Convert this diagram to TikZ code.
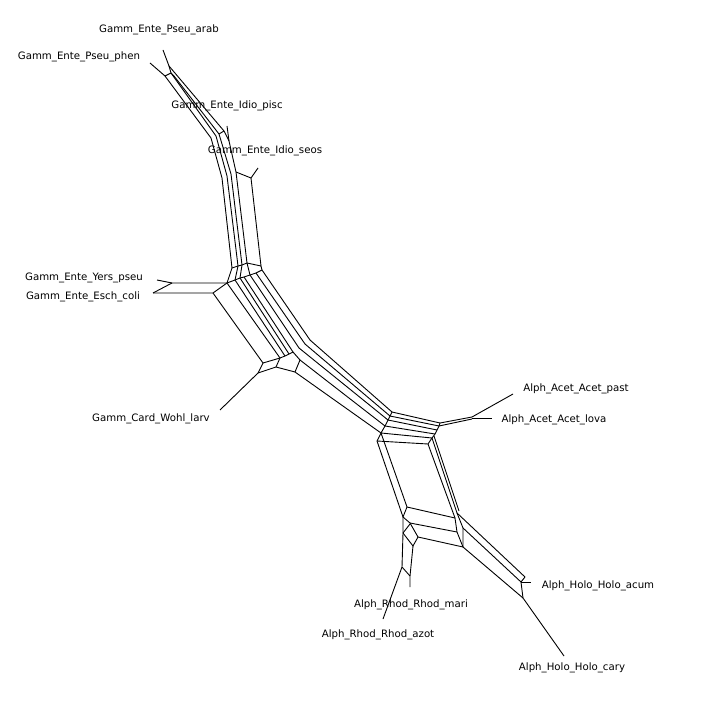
\documentclass[tikz,border=0pt]{standalone}
\usepackage{fontspec}
\setmainfont{DejaVu Sans}
\usetikzlibrary{arrows}

\begin{document}
\begin{tikzpicture}[kante/.style={line width=0.9pt, line join=miter},
				taxon/.style={font=\fontsize{10.2}{12}\selectfont, inner sep=0pt}, x=1pt, y=-1pt]
				\useasboundingbox (0,0) rectangle (708,700);
				%Pseudomonas-Ast oben
				\draw [kante] (163,50) -- (169,66);
				\draw [kante] (150,63) -- (165,76);
				\draw [kante] (165,76) -- (171,73) -- (169,66);
				\draw [kante] (171,73) -- (174,76);
				\draw [kante] (165,76) -- (211,138) -- (222,178) -- (232,268);
				\draw [kante] (171,73) -- (216,136) -- (227,176) -- (238,266);
				\draw [kante] (174,76) -- (219,134) -- (231,174) -- (242,265);
				\draw [kante] (169,66) -- (224,131) -- (229,141) -- (236,172) -- (247,263);
				\draw [kante] (219,134) -- (224,131);
				\draw [kante] (227,126) -- (229,141);
				\draw [kante] (236,172) -- (251,178) -- (261,266);
				\draw [kante] (251,178) -- (258,168);
				%Knoten unten am Ast
				\draw [kante] (232,268) -- (238,266) -- (242,265) -- (247,263) -- (261,266) -- (262,270);
				\draw [kante] (232,268) -- (227,283);
				\draw [kante] (238,266) -- (235,280);
				\draw [kante] (242,265) -- (240,278);
				\draw [kante] (247,263) -- (250,275);
				\draw [kante] (227,283) -- (235,280) -- (240,278) -- (244,277) -- (250,275) -- (256,273) -- (262,270);
				%Yersinia, Escherichia
				\draw [kante] (157,280) -- (172,283);
				\draw [kante] (153,293) -- (172,283) -- (227,283);
				\draw [kante] (153,293) -- (213,293) -- (227,283);
				%mittleres Band
				\draw [kante] (213,293) -- (263,363);
				\draw [kante] (227,283) -- (280,358);
				\draw [kante] (235,280) -- (285,356);
				\draw [kante] (240,278) -- (289,354);
				\draw [kante] (244,277) -- (293,352);
				\draw [kante] (250,275) -- (299,348);
				\draw [kante] (256,273) -- (305,344);
				\draw [kante] (262,270) -- (310,340);
				\draw [kante] (263,363) -- (280,358) -- (285,356) -- (289,354) -- (293,352);
				%Wigglesworthia
				\draw [kante] (220,410) -- (258,373) -- (263,363);
				\draw [kante] (258,373) -- (276,367) -- (280,358);
				\draw [kante] (276,367) -- (295,372);
				\draw [kante] (293,352) -- (300,360) -- (295,372);
				%langes Band
				\draw [kante] (310,340) -- (392,412);
				\draw [kante] (305,344) -- (390,416);
				\draw [kante] (299,348) -- (388,420);
				\draw [kante] (300,360) -- (385,426);
				\draw [kante] (295,372) -- (381,433);
				%Acetobacter
				\draw [kante] (392,412) -- (390,416) -- (388,420) -- (385,426) -- (381,433) -- (377,441);
				\draw [kante] (440,423) -- (439,426) -- (437,430) -- (435,434) -- (432,438) -- (428,444);
				\draw [kante] (392,412) -- (440,423);
				\draw [kante] (390,416) -- (439,426);
				\draw [kante] (388,420) -- (437,430);
				\draw [kante] (385,426) -- (435,434);
				\draw [kante] (381,433) -- (432,438);
				\draw [kante] (377,441) -- (428,444);
				\draw [kante] (440,423) -- (472,417);
				\draw [kante] (439,426) -- (472,419);
				\draw [kante] (472,417) -- (513,394);
				\draw [kante] (472,418) -- (492,418);
				%grosses Rechteck
				\draw [kante] (381,433) -- (407,507);
				\draw [kante] (377,441) -- (403,517);
				\draw [kante] (432,438) -- (457,513);
				\draw [kante] (434,436) -- (459,511);
				\draw [kante] (428,444) -- (455,518);
				\draw [kante] (407,507) -- (403,517) -- (410,523) -- (418,537);
				\draw [kante] (407,507) -- (455,518) -- (457,532) -- (463,547);
				\draw [kante] (410,523) -- (457,532);
				\draw [kante] (418,537) -- (463,547);
				\draw [kante] (457,513) -- (463,528) -- (463,547);
				%Holospora
				\draw [kante] (457,513) -- (525,577);
				\draw [kante] (463,528) -- (521,582);
				\draw [kante] (463,547) -- (523,598);
				\draw [kante] (525,577) -- (521,582) -- (523,598);
				\draw [kante] (521,582) -- (531,582);
				\draw [kante] (523,598) -- (564,656);
				%Rhodobacter
				\draw [kante] (403,517) -- (403,533) -- (402,567) -- (410,576);
				\draw [kante] (403,533) -- (410,524);
				\draw [kante] (418,537) -- (413,546) -- (403,533);
				\draw [kante] (413,546) -- (410,576) -- (410,587);
				\draw [kante] (402,567) -- (383,619);
				\begin{scope}
					\node [taxon] (arab) at (159,30) {Gamm\_Ente\_Pseu\_arab};
					\node [taxon] (phen) at (79,57) {Gamm\_Ente\_Pseu\_phen};
					\node [taxon] (pisc) at (227,106) {Gamm\_Ente\_Idio\_pisc};
					\node [taxon] (seos) at (265,151) {Gamm\_Ente\_Idio\_seos};
					\node [taxon] (yers) at (84,278) {Gamm\_Ente\_Yers\_pseu};
					\node [taxon] (esch) at (83,297) {Gamm\_Ente\_Esch\_coli};
					\node [taxon] (wohl) at (151,419) {Gamm\_Card\_Wohl\_larv};
					\node [taxon] (past) at (576,389) {Alph\_Acet\_Acet\_past};
					\node [taxon] (lova) at (554,420) {Alph\_Acet\_Acet\_lova};
					\node [taxon] (acum) at (598,586) {Alph\_Holo\_Holo\_acum};
					\node [taxon] (mari) at (411,605) {Alph\_Rhod\_Rhod\_mari};
					\node [taxon] (azot) at (378,635) {Alph\_Rhod\_Rhod\_azot};
					\node [taxon] (cary) at (572,668) {Alph\_Holo\_Holo\_cary};
				\end{scope}
			\end{tikzpicture}
\end{document}
